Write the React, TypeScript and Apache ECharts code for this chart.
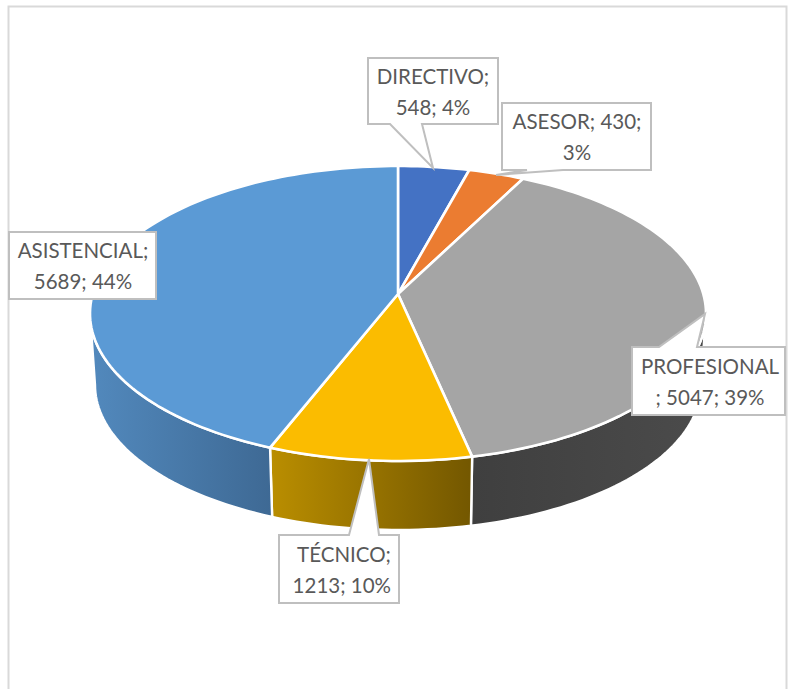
import React, { useEffect, useRef } from "react";
import * as echarts from "echarts";

const categories = ["DIRECTIVO", "ASESOR", "PROFESIONAL", "TÉCNICO", "ASISTENCIAL"];
const values = [548, 430, 5047, 1213, 5689];
const percents = [4, 3, 39, 10, 44];
const labelBreaks = [
  (c: string, v: number, p: number) => `${c};\n${v}; ${p}%`,
  (c: string, v: number, p: number) => `${c}; ${v};\n${p}%`,
  (c: string, v: number, p: number) => `${c}\n; ${v}; ${p}%`,
  (c: string, v: number, p: number) => `${c};\n${v}; ${p}%`,
  (c: string, v: number, p: number) => `${c};\n${v}; ${p}%`,
];
const topColors = ["#4472C4", "#EB7C31", "#A5A5A5", "#FBBC00", "#5B9AD5"];
const sideColors = [
  ["#2F5597", "#2F5597"],
  ["#B35A1F", "#B35A1F"],
  ["#4B4B4B", "#3F3F3F"],
  ["#BA8E00", "#735700"],
  ["#5289BD", "#3E6994"],
];

// Layout of the callouts: box [x0, y0, x1, y1], tail [baseA, baseB, tip], text anchor
const boxes = [
  [368, 58, 498, 124],
  [502, 103, 651, 170],
  [632, 347, 785, 415],
  [279, 535, 399, 603],
  [9, 232, 156, 299],
];
const tails: (number[][] | null)[] = [
  [[390, 124], [422, 124], [433, 168]],
  [[563, 170], [527, 170], [496, 175]],
  [[697, 347], [659, 347], [705, 314]],
  [[379, 535], [349, 535], [369, 459]],
  null,
];
const textAligns = ["center", "center", "center", "right", "center"];
const textX = [433, 577, 710, 391, 83];

// Pie geometry
const CX = 398;
const TOP_CY = 313.5;
const TOP_RX = 308;
const TOP_RY = 147.5;
const BOT_CY = 385;
const BOT_RX = 303;
const BOT_RY = 145;
const TILT = -0.132; // perspective shift of the pie's apex in the unit disk

const total = values.reduce((a, b) => a + b, 0);
const cumulative = values.reduce<number[]>((acc, v) => [...acc, acc[acc.length - 1] + v], [0]);

// True angle (deg, clockwise from top) to unit-disk position after perspective
function project(deg: number): [number, number] {
  const a = (deg * Math.PI) / 180;
  const x = Math.sin(a);
  const y = -Math.cos(a);
  const d = 1 + TILT * y;
  return [(x * Math.sqrt(1 - TILT * TILT)) / d, (y + TILT) / d];
}
const onTop = (deg: number): number[] => {
  const [u, v] = project(deg);
  return [CX + TOP_RX * u, TOP_CY + TOP_RY * v];
};
const onBottom = (deg: number): number[] => {
  const [u, v] = project(deg);
  return [CX + BOT_RX * u, BOT_CY + BOT_RY * v];
};
const sweep = (a: number, b: number, f: (d: number) => number[]): number[][] => {
  const n = Math.max(2, Math.ceil(Math.abs(b - a) / 1.5));
  const out: number[][] = [];
  for (let i = 0; i <= n; i++) out.push(f(a + ((b - a) * i) / n));
  return out;
};
const startDeg = (i: number) => (cumulative[i] / total) * 360;
const endDeg = (i: number) => (cumulative[i + 1] / total) * 360;
const VIS_A = (Math.acos(TILT) * 180) / Math.PI;
const VIS_B = 360 - VIS_A;

export default function App() {
  const ref = useRef<HTMLDivElement>(null);
  useEffect(() => {
    if (!ref.current) return;
    const chart = echarts.init(ref.current, undefined, { renderer: "svg" });
    chart.setOption({
      animation: false,
      backgroundColor: "#ffffff",
      tooltip: { show: false },
      graphic: {
        elements: [
          {
            type: "rect",
            z: -10,
            silent: true,
            shape: { x: 8.5, y: 6.5, width: 778, height: 720 },
            style: { fill: "#ffffff", stroke: "#D9D9D9", lineWidth: 2 },
          },
        ],
      },
      series: [
        {
          type: "custom",
          coordinateSystem: "none",
          silent: true,
          z: 2,
          data: values,
          renderItem: (params: any) => {
            const i = params.dataIndex;
            const a = Math.max(startDeg(i), VIS_A);
            const b = Math.min(endDeg(i), VIS_B);
            if (b <= a) return { type: "group", children: [] };
            const points = [...sweep(a, b, onTop), ...sweep(b, a, onBottom)];
            return {
              type: "polygon",
              shape: { points },
              style: {
                fill: {
                  type: "linear",
                  x: 0,
                  y: 0,
                  x2: 1,
                  y2: 0,
                  colorStops: [
                    { offset: 0, color: b > 180 ? sideColors[i][0] : sideColors[i][1] },
                    { offset: 1, color: b > 180 ? sideColors[i][1] : sideColors[i][0] },
                  ],
                },
                stroke: "#ffffff",
                lineWidth: 2.4,
              },
            };
          },
        },
        {
          type: "custom",
          coordinateSystem: "none",
          silent: true,
          z: 3,
          data: values,
          renderItem: (params: any) => {
            const i = params.dataIndex;
            const apex = [CX, TOP_CY + TOP_RY * TILT];
            return {
              type: "polygon",
              shape: { points: [apex, ...sweep(startDeg(i), endDeg(i), onTop)] },
              style: { fill: topColors[i], stroke: "#ffffff", lineWidth: 2.6, lineJoin: "round" },
            };
          },
        },
        {
          type: "custom",
          coordinateSystem: "none",
          silent: true,
          z: 4,
          data: values,
          renderItem: (params: any) => {
            const i = params.dataIndex;
            const [x0, y0, x1, y1] = boxes[i];
            const tail = tails[i];
            const pts: number[][] = [];
            // Walk the box clockwise and insert the tail on the edge it leaves from
            const corners = [[x0, y0], [x1, y0], [x1, y1], [x0, y1]];
            const edge = !tail ? -1 : tail[0][1] === y0 ? 0 : 2;
            corners.forEach((c, k) => {
              pts.push(c);
              if (k === edge && tail) {
                const [p, q, tip] = tail;
                const first = edge === 0 ? (p[0] < q[0] ? p : q) : p[0] > q[0] ? p : q;
                const last = first === p ? q : p;
                pts.push(first, tip, last);
              }
            });
            return {
              type: "group",
              children: [
                {
                  type: "polygon",
                  shape: { points: pts },
                  style: { fill: "#ffffff", stroke: "#BFBFBF", lineWidth: 2 },
                },
                {
                  type: "text",
                  style: {
                    text: labelBreaks[i](categories[i], values[i], percents[i]),
                    x: textX[i],
                    y: (y0 + y1) / 2,
                    align: textAligns[i],
                    verticalAlign: "middle",
                    font: "20.5px Lato",
                    lineHeight: 31,
                    fill: "#595959",
                  },
                },
              ],
            };
          },
        },
      ],
    });
    return () => chart.dispose();
  }, []);
  return (
    <div
      ref={ref}
      style={{ position: "absolute", left: 0, top: 0, width: 796, height: 689 }}
    />
  );
}
